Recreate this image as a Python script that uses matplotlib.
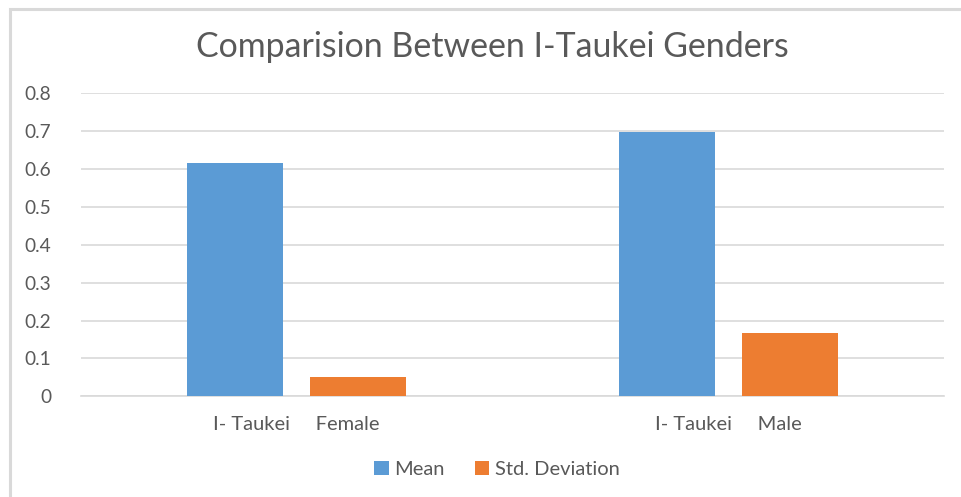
import numpy as np
import matplotlib
matplotlib.use("Agg")
import matplotlib.pyplot as plt
from matplotlib.patches import Rectangle

categories = ["I- Taukei     Female", "I- Taukei     Male"]
mean_vals = [0.616, 0.697]
std_vals = [0.052, 0.168]
series_names = ["Mean", "Std. Deviation"]
yticks = [0, 0.1, 0.2, 0.3, 0.4, 0.5, 0.6, 0.7, 0.8]

plt.rcParams['font.family'] = ['Lato', 'DejaVu Sans']
txt = '#595959'
grid_c = '#d9d9d9'

fig = plt.figure(figsize=(9.62, 4.97), dpi=100)
ax = fig.add_axes([0.0837, 0.2026, 0.8979, 0.6101])

# chart border (cropped on right/bottom)
fig.patches.append(Rectangle((10 / 962, -0.1), 1.2, 1.1 - 9 / 497, transform=fig.transFigure,
                             fill=False, edgecolor=grid_c, linewidth=2.2))

x = np.arange(len(categories))
w = 0.223
off = 0.142
ax.bar(x - off, mean_vals, w, color='#5b9bd5', label=series_names[0], zorder=3)
ax.bar(x + off, std_vals, w, color='#ed7d31', label=series_names[1], zorder=3)

ax.set_xlim(-0.5, 1.5)
ax.set_ylim(0, 0.8)
ax.set_yticks(yticks)
ax.set_yticklabels([f"{t:g}" for t in yticks])
ax.set_xticks(x)
ax.set_xticklabels(categories)
ax.yaxis.grid(True, color=grid_c, linewidth=1.2, zorder=0)
ax.set_axisbelow(True)
for s in ['top', 'right', 'left']:
    ax.spines[s].set_visible(False)
ax.spines['bottom'].set_color(grid_c)
ax.spines['bottom'].set_linewidth(1.2)
ax.tick_params(axis='both', length=0, colors=txt)
ax.tick_params(axis='y', pad=21, labelsize=13.8)
ax.tick_params(axis='x', pad=14, labelsize=14.5)

fig.text(0.512, 0.906, "Comparision Between I-Taukei Genders", ha='center', va='center',
         fontsize=24.4, color=txt)

leg = fig.legend(loc='center', bbox_to_anchor=(0.517, 0.055), ncol=2, frameon=False,
                 fontsize=14.5, handlelength=0.7, handleheight=0.7, handletextpad=0.3,
                 columnspacing=1.5)
for t in leg.get_texts():
    t.set_color(txt)

fig.savefig("out.png", dpi=100)
